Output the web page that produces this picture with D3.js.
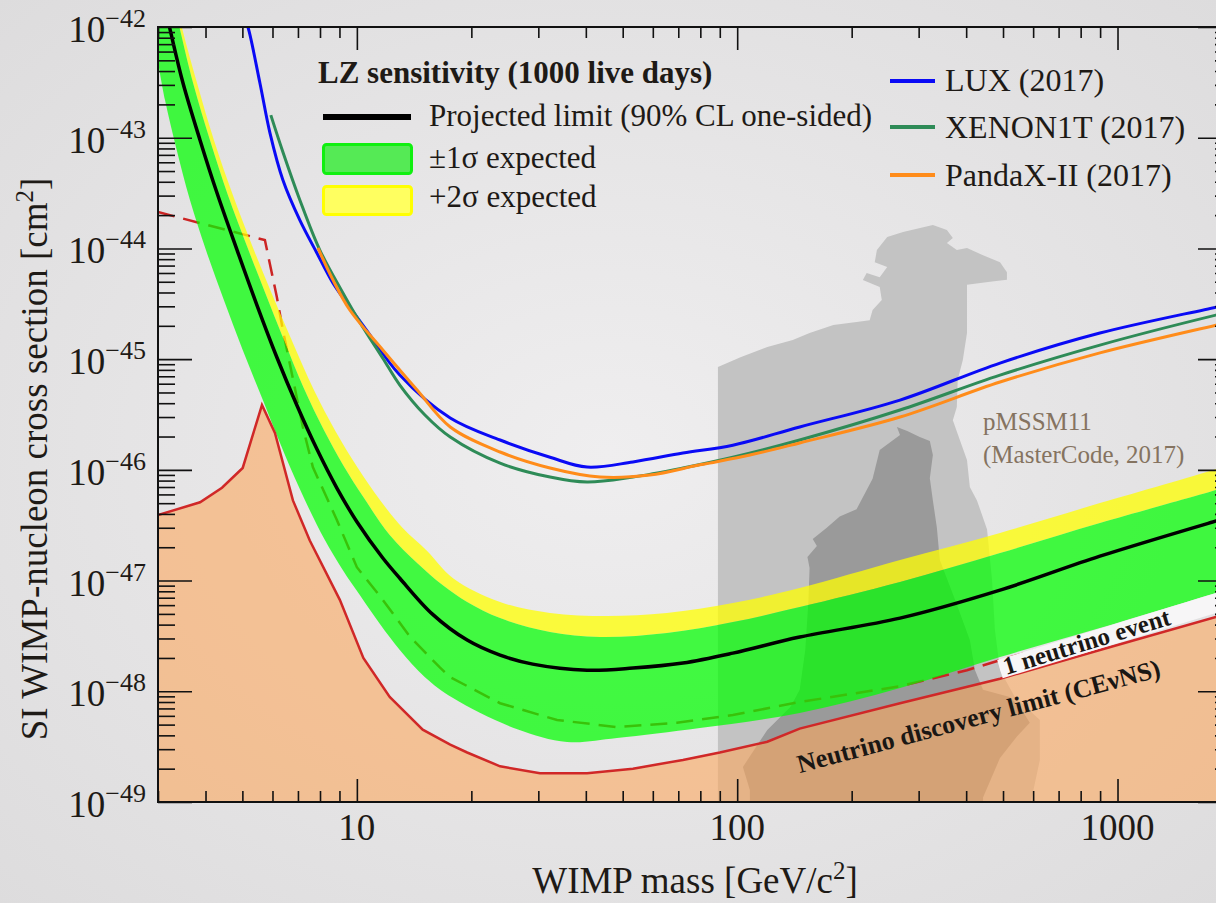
<!DOCTYPE html>
<html>
<head>
<meta charset="utf-8">
<script src="https://cdn.jsdelivr.net/npm/d3@7"></script>
<style>
  html, body { margin: 0; padding: 0; }
  body { width: 1216px; height: 903px; overflow: hidden; background: #ebeaeb; }
  svg { display: block; font-family: "Liberation Serif", "Times New Roman", serif; }
</style>
</head>
<body>
<svg id="chart" width="1216" height="903"></svg>
<script>
// === Data: [WIMP mass (GeV), cross section (cm^2)] ===
const projLimit = [
  [3.0, 2.8e-42], [3.22, 9.8e-43], [3.49, 3.12e-43], [3.87, 9.5e-44], [4.28, 3.23e-44],
  [4.84, 9.7e-45], [5.46, 3.08e-45], [6.16, 1.04e-45], [6.95, 3.85e-46], [7.85, 1.54e-46],
  [8.86, 6.85e-47], [10.0, 3.4e-47], [11.7, 1.6e-47], [12.97, 1.05e-47], [15.8, 4.98e-48],
  [19.5, 2.9e-48], [23.8, 2.12e-48], [29.0, 1.76e-48], [40.3, 1.55e-48], [53.2, 1.62e-48],
  [72, 1.8e-48], [97.4, 2.21e-48], [146, 3.09e-48], [268, 4.58e-48], [491, 8.2e-48],
  [899, 1.66e-47], [1815, 3.45e-47], [2000, 3.8e-47]
];
const sigma1High = [
  [3.0, 6.8e-42], [3.42, 9.8e-43], [3.71, 3.12e-43], [4.11, 9.5e-44], [4.58, 3.04e-44],
  [5.14, 1.05e-44], [5.73, 4.04e-45], [6.43, 1.49e-45], [7.25, 5.48e-46], [8.19, 2.29e-46],
  [9.24, 1.08e-46], [10.4, 5.68e-47], [12.2, 2.58e-47], [14.4, 1.44e-47], [16.8, 9.11e-48],
  [19.5, 6.4e-48], [23.8, 4.58e-48], [32.2, 3.43e-48], [43.6, 3.09e-48], [65.3, 3.36e-48],
  [97.4, 4.22e-48], [146, 5.76e-48], [268, 9.7e-48], [491, 1.77e-47], [899, 3.31e-47],
  [1815, 6.57e-47], [2000, 7.3e-47]
];
const sigma2High = [
  [3.0, 8e-42], [3.47, 9.8e-43], [3.80, 3.12e-43], [4.21, 9.5e-44], [4.72, 3.04e-44],
  [5.30, 1.07e-44], [5.98, 3.87e-45], [6.79, 1.40e-45], [7.71, 5.26e-46], [8.81, 2.20e-46],
  [10.06, 1.04e-46], [11.5, 5.34e-47], [13.2, 2.98e-47], [15.3, 1.85e-47], [17.9, 1.05e-47],
  [23.8, 6.4e-48], [32.2, 5.09e-48], [45.4, 4.78e-48], [65.3, 5.09e-48], [97.4, 6.26e-48],
  [146, 8.55e-48], [268, 1.53e-47], [491, 2.69e-47], [899, 5.01e-47], [1815, 1.02e-46],
  [2000, 1.15e-46]
];
const sigma1Low = [
  [3.0, 4.83e-43], [3.13, 2.19e-43], [3.36, 7.74e-44], [3.64, 2.74e-44], [4.01, 9.67e-45],
  [4.47, 3.42e-45], [5.01, 1.21e-45], [5.66, 4.27e-46], [6.47, 1.36e-46], [7.30, 5.34e-47],
  [8.24, 2.32e-47], [9.19, 1.24e-47], [10.18, 7.39e-48], [11.5, 4.05e-48], [12.97, 2.36e-48],
  [15.1, 1.34e-48], [17.9, 8.68e-49], [26.3, 4.56e-49], [35.7, 3.48e-49], [48.3, 3.78e-49],
  [79.8, 4.65e-49], [146, 6.36e-49], [268, 1.07e-48], [491, 2.04e-48], [899, 3.72e-48],
  [1815, 7.71e-48], [2000, 8.5e-48]
];
const luxLimit = [
  [5.1, 1.1e-42], [5.17, 1e-42], [5.56, 3.12e-43], [5.91, 1.10e-43], [6.39, 4.15e-44], [7.08, 1.80e-44],
  [7.85, 9.09e-45], [8.65, 4.87e-45], [9.58, 2.95e-45], [10.6, 1.83e-45], [12.97, 7.18e-46],
  [17.6, 2.94e-46], [23.8, 1.86e-46], [32.2, 1.30e-46], [40.3, 1.06e-46], [53.2, 1.18e-46],
  [72, 1.42e-46], [97.4, 1.67e-46], [146, 2.44e-46], [268, 4.27e-46], [491, 9.22e-46],
  [899, 1.72e-45], [1815, 2.95e-45], [2000, 3.2e-45]
];
const xenonLimit = [
  [5.94, 1.60e-43], [6.39, 7.43e-44], [7.08, 2.74e-44], [7.99, 9.67e-45], [9.19, 3.96e-45],
  [10.18, 2.16e-45], [11.7, 1.02e-45], [12.97, 5.83e-46], [15.1, 3.13e-46], [17.6, 1.98e-46],
  [23.8, 1.15e-46], [32.2, 8.61e-47], [40.3, 7.76e-47], [53.2, 8.61e-47], [72, 1.04e-46],
  [97.4, 1.30e-46], [146, 1.86e-46], [268, 3.47e-46], [491, 7.18e-46], [899, 1.34e-45],
  [1815, 2.50e-45], [2000, 2.7e-45]
];
const pandaxLimit = [
  [7.90, 1.01e-44], [8.65, 5.2e-45], [9.58, 2.78e-45], [11.7, 1.21e-45], [14.4, 5.26e-46],
  [17.6, 2.44e-46], [23.8, 1.45e-46], [32.2, 1.04e-46], [43.6, 8.61e-47], [58.9, 8.97e-47],
  [79.8, 1.11e-46], [108, 1.36e-46], [146, 1.75e-46], [268, 3.00e-46], [491, 6.21e-46],
  [899, 1.14e-45], [1815, 2.03e-45], [2000, 2.2e-45]
];
const nuFloor = [
  [3.0, 3.9e-47], [3.87, 5.1e-47], [4.42, 6.9e-47], [5.01, 1.04e-46], [5.63, 3.85e-46],
  [6.09, 2.15e-46], [6.79, 5.3e-47], [7.52, 2.3e-47], [9.02, 6.7e-48], [10.4, 2.0e-48],
  [12.2, 8.9e-49], [14.9, 4.5e-49], [17.6, 3.3e-49], [19.5, 2.8e-49], [23.8, 2.1e-49],
  [30.3, 1.82e-49], [40.3, 1.82e-49], [53.2, 2.0e-49], [72, 2.4e-49], [90, 2.8e-49],
  [120, 3.5e-49], [146, 4.6e-49], [268, 7.8e-49], [491, 1.3e-48], [899, 2.36e-48],
  [1815, 4.7e-48], [2000, 5.2e-48]
];
const nuOneEvent = [
  [3.0, 2.13e-44], [5.73, 1.19e-44], [6.16, 3.64e-45], [6.39, 1.83e-45], [7.21, 2.44e-46],
  [7.66, 1.06e-46], [8.86, 3.52e-47], [10.0, 1.32e-47], [11.7, 6.7e-48], [13.8, 3.1e-48],
  [16.5, 1.65e-48], [17.6, 1.34e-48], [23.8, 7.8e-49], [33.6, 5.5e-49], [48.3, 4.75e-49],
  [69.4, 5.2e-49], [97.4, 6.1e-49], [146, 8.0e-49], [268, 1.11e-48], [402, 1.55e-48],
  [491, 1.91e-48], [899, 3.43e-48], [1399, 5.4e-48], [1815, 6.7e-48], [2000, 7.3e-48]
];
// pMSSM11 (MasterCode) allowed regions
const pmssmOuter = [
  [89, 9e-50], [89, 8.5e-46], [102, 1.04e-45], [120, 1.29e-45], [140, 1.49e-45], [155, 1.72e-45],
  [179, 2.03e-45], [206, 2.16e-45], [223, 2.25e-45], [227, 2.78e-45], [240, 3.42e-45],
  [237, 4.48e-45], [214, 5.18e-45], [219, 6.0e-45], [237, 5.5e-45], [248, 6.8e-45],
  [230, 7.5e-45], [233, 9.7e-45], [248, 1.27e-44], [273, 1.41e-44], [327, 1.63e-44],
  [356, 1.47e-44], [369, 1.24e-44], [356, 1.12e-44], [378, 9.7e-45], [402, 1.01e-44],
  [443, 8.7e-45], [491, 7.5e-45], [512, 6.1e-45], [512, 5.2e-45], [462, 5.0e-45],
  [402, 4.7e-45], [402, 1.72e-45], [392, 9.8e-46], [380, 6.5e-46], [378, 3.7e-46],
  [369, 2.8e-46], [385, 1.86e-46], [402, 1.23e-46], [409, 7.0e-47], [427, 5.3e-47],
  [454, 2.9e-47], [468, 1.0e-47], [476, 3.6e-48], [491, 1.55e-48], [537, 8.9e-49],
  [625, 5.5e-49], [625, 2.4e-49], [588, 9e-50]
];
const pmssmCore = [
  [263, 2.44e-46], [280, 2.24e-46], [302, 1.98e-46], [321, 1.82e-46], [327, 1.36e-46],
  [321, 8.4e-47], [327, 5.3e-47], [335, 3.0e-47], [341, 1.53e-47], [374, 6.7e-48],
  [409, 2.9e-48], [422, 1.55e-48], [443, 1.03e-48], [521, 8.9e-49], [554, 7.2e-49],
  [588, 5.2e-49], [544, 3.9e-49], [491, 2.5e-49], [443, 1.1e-49], [443, 9e-50],
  [108, 9e-50], [108, 1.28e-49], [103.5, 2.07e-49], [115, 3.6e-49], [120, 4.46e-49],
  [138, 7.2e-49], [146, 1.03e-48], [151, 2.36e-48], [154, 6.7e-48], [155, 1.3e-47],
  [153, 1.63e-47], [162, 2.05e-47], [158, 2.37e-47], [172, 3.0e-47], [186, 3.8e-47],
  [206, 4.4e-47], [227, 8.3e-47], [237, 1.51e-46], [268, 2.06e-46]
];

// tick values
const yTickExps = [-42, -43, -44, -45, -46, -47, -48, -49];
const xTickLabels = [10, 100, 1000];

// === Scales ===
const W = 1216, H = 903;
const plot = { left: 158, right: 1232, top: 27, bottom: 802 };
const x = d3.scaleLog().domain([3, 2000]).range([plot.left, plot.right]);
const y = d3.scaleLog().domain([1e-49, 1e-42]).range([plot.bottom, plot.top]);

const svg = d3.select("#chart");
const defs = svg.append("defs");

const bgGrad = defs.append("radialGradient").attr("id", "bgGrad")
  .attr("cx", "50%").attr("cy", "50%").attr("r", "75%");
bgGrad.append("stop").attr("offset", "0%").attr("stop-color", "#efeeef");
bgGrad.append("stop").attr("offset", "100%").attr("stop-color", "#dcdbdc");
svg.append("rect").attr("width", W).attr("height", H).attr("fill", "url(#bgGrad)");

defs.append("clipPath").attr("id", "plotClip").append("rect")
  .attr("x", plot.left).attr("y", plot.top)
  .attr("width", plot.right - plot.left).attr("height", plot.bottom - plot.top);

const g = svg.append("g").attr("clip-path", "url(#plotClip)");

const smooth = d3.line().x(d => x(d[0])).y(d => y(d[1])).curve(d3.curveCatmullRom.alpha(0.5));
const straight = d3.line().x(d => x(d[0])).y(d => y(d[1]));
const closed = d3.line().x(d => x(d[0])).y(d => y(d[1])).curve(d3.curveLinearClosed);

function bandPath(upper, lower) {
  return smooth(upper) + "L" + smooth(lower.slice().reverse()).slice(1) + "Z";
}

// pMSSM11 regions
g.append("path").attr("d", closed(pmssmOuter)).attr("fill", "#c3c3c3");
g.append("path").attr("d", closed(pmssmCore)).attr("fill", "#9a9a9a");

// neutrino discovery region (filled)
const floorArea = d3.area().x(d => x(d[0])).y0(plot.bottom + 5).y1(d => y(d[1]));
g.append("path").datum(nuFloor).attr("d", floorArea)
  .attr("fill", "#fca95f").attr("fill-opacity", 0.6);

// label strip for "1 neutrino event"
const oneEvtAnchor = [509, 1.40e-48];
const oneEvt = svg.append("g")
  .attr("transform", `translate(${x(oneEvtAnchor[0])},${y(oneEvtAnchor[1])}) rotate(-17)`);
const oneEvtBg = oneEvt.append("rect").attr("fill", "#f7f6f7");

// 1 neutrino event line (dashed)
g.append("path").datum(nuOneEvent).attr("d", straight)
  .attr("fill", "none").attr("stroke", "#cc2424").attr("stroke-width", 2.5)
  .attr("stroke-dasharray", "17,9");

// bands
g.append("path").attr("d", bandPath(sigma2High, sigma1High))
  .attr("fill", "#ffff00").attr("fill-opacity", 0.75);
g.append("path").attr("d", bandPath(sigma1High, sigma1Low))
  .attr("fill", "#00ff00").attr("fill-opacity", 0.72);

// neutrino discovery limit line
g.append("path").datum(nuFloor).attr("d", straight)
  .attr("fill", "none").attr("stroke", "#d02828").attr("stroke-width", 2.5);

// projected limit
g.append("path").datum(projLimit).attr("d", smooth)
  .attr("fill", "none").attr("stroke", "#000").attr("stroke-width", 3.5);

// existing limits
g.append("path").datum(luxLimit).attr("d", smooth)
  .attr("fill", "none").attr("stroke", "#0a0af5").attr("stroke-width", 3);
g.append("path").datum(xenonLimit).attr("d", smooth)
  .attr("fill", "none").attr("stroke", "#2e8b57").attr("stroke-width", 3);
g.append("path").datum(pandaxLimit).attr("d", smooth)
  .attr("fill", "none").attr("stroke", "#ff8c1a").attr("stroke-width", 3);

// in-plot labels
const oneEvtText = oneEvt.append("text").attr("x", 0).attr("y", 0)
  .style("font-size", "25px").style("font-weight", "bold").attr("fill", "#1a1714")
  .text("1 neutrino event");
const bb = oneEvtText.node().getBBox();
oneEvtBg.attr("x", bb.x - 4).attr("y", -17).attr("width", bb.width + 60).attr("height", 19);

const discAnchor = [146, 1.82e-49];
svg.append("text")
  .attr("transform", `translate(${x(discAnchor[0])},${y(discAnchor[1])}) rotate(-15)`)
  .style("font-size", "26px").style("font-weight", "bold").attr("fill", "#1a1714")
  .text("Neutrino discovery limit (CEνNS)");

svg.append("text").attr("x", 983).attr("y", 430).style("font-size", "25px")
  .attr("fill", "#857360").text("pMSSM11");
svg.append("text").attr("x", 983).attr("y", 463).style("font-size", "25px")
  .attr("fill", "#857360").text("(MasterCode, 2017)");

// === Axes ===
const yMajor = yTickExps.map(e => Math.pow(10, e));
const yMinor = [];
for (let e = -49; e < -42; e++) for (let k = 2; k <= 9; k++) yMinor.push(k * Math.pow(10, e));
const xMajor = xTickLabels;
const xMinor = [3, 4, 5, 6, 7, 8, 9, 20, 30, 40, 50, 60, 70, 80, 90,
  200, 300, 400, 500, 600, 700, 800, 900, 2000];

function addAxis(axis, tf) {
  const a = svg.append("g").attr("transform", tf).call(axis);
  a.select(".domain").remove();
  a.selectAll("line").attr("stroke", "#111").attr("stroke-width", 1.6);
}
addAxis(d3.axisLeft(y).tickValues(yMajor).tickSizeInner(-34).tickSizeOuter(0).tickFormat(""), `translate(${plot.left},0)`);
addAxis(d3.axisLeft(y).tickValues(yMinor).tickSizeInner(-17).tickSizeOuter(0).tickFormat(""), `translate(${plot.left},0)`);
addAxis(d3.axisRight(y).tickValues(yMajor).tickSizeInner(-34).tickSizeOuter(0).tickFormat(""), `translate(${plot.right},0)`);
addAxis(d3.axisRight(y).tickValues(yMinor).tickSizeInner(-17).tickSizeOuter(0).tickFormat(""), `translate(${plot.right},0)`);
addAxis(d3.axisBottom(x).tickValues(xMajor).tickSizeInner(-23).tickSizeOuter(0).tickFormat(""), `translate(0,${plot.bottom})`);
addAxis(d3.axisBottom(x).tickValues(xMinor).tickSizeInner(-11).tickSizeOuter(0).tickFormat(""), `translate(0,${plot.bottom})`);
addAxis(d3.axisTop(x).tickValues(xMajor).tickSizeInner(-23).tickSizeOuter(0).tickFormat(""), `translate(0,${plot.top})`);
addAxis(d3.axisTop(x).tickValues(xMinor).tickSizeInner(-11).tickSizeOuter(0).tickFormat(""), `translate(0,${plot.top})`);

svg.append("rect").attr("x", plot.left).attr("y", plot.top)
  .attr("width", plot.right - plot.left).attr("height", plot.bottom - plot.top)
  .attr("fill", "none").attr("stroke", "#111").attr("stroke-width", 2);

const txt = "#1e1a16";
yTickExps.forEach(e => {
  const t = svg.append("text").attr("x", 146).attr("y", y(Math.pow(10, e)) + 15)
    .attr("text-anchor", "end").attr("fill", txt);
  t.append("tspan").style("font-size", "37px").text("10");
  t.append("tspan").style("font-size", "26px").attr("dy", -15).text("\u2212" + Math.abs(e));
});
xTickLabels.forEach(v => {
  svg.append("text").attr("x", x(v)).attr("y", 840).attr("text-anchor", "middle")
    .style("font-size", "37px").attr("fill", txt).text(v);
});

const xTitle = svg.append("text").attr("x", 695).attr("y", 893).attr("text-anchor", "middle")
  .style("font-size", "37px").attr("fill", txt);
xTitle.append("tspan").text("WIMP mass [GeV/c");
xTitle.append("tspan").attr("dy", -14).style("font-size", "25px").text("2");
xTitle.append("tspan").attr("dy", 14).text("]");

const yTitle = svg.append("text").attr("transform", "translate(47,459) rotate(-90)")
  .attr("text-anchor", "middle").style("font-size", "37px").attr("fill", txt);
yTitle.append("tspan").text("SI WIMP-nucleon cross section [cm");
yTitle.append("tspan").attr("dy", -14).style("font-size", "25px").text("2");
yTitle.append("tspan").attr("dy", 14).text("]");

// === Legend ===
svg.append("text").attr("x", 318).attr("y", 83).style("font-size", "31px")
  .style("font-weight", "bold").attr("fill", txt).text("LZ sensitivity (1000 live days)");
svg.append("line").attr("x1", 323).attr("x2", 411).attr("y1", 117).attr("y2", 117)
  .attr("stroke", "#000").attr("stroke-width", 6);
svg.append("text").attr("x", 429).attr("y", 126).style("font-size", "31px")
  .attr("fill", txt).text("Projected limit (90% CL one-sided)");
svg.append("rect").attr("x", 323.5).attr("y", 144.5).attr("width", 88).attr("height", 29).attr("rx", 3)
  .attr("fill", "#55ea55").attr("stroke", "#10f010").attr("stroke-width", 3);
svg.append("text").attr("x", 429).attr("y", 168).style("font-size", "31px")
  .attr("fill", txt).text("±1σ expected");
svg.append("rect").attr("x", 323.5).attr("y", 186.5).attr("width", 88).attr("height", 28).attr("rx", 3)
  .attr("fill", "#ffff60").attr("stroke", "#ffff00").attr("stroke-width", 3);
svg.append("text").attr("x", 429).attr("y", 207).style("font-size", "31px")
  .attr("fill", txt).text("+2σ expected");

const legendRight = [
  { name: "LUX (2017)", color: "#0a0af5", ly: 81, ty: 91 },
  { name: "XENON1T (2017)", color: "#2e8b57", ly: 127, ty: 138 },
  { name: "PandaX-II (2017)", color: "#ff8c1a", ly: 175, ty: 186 }
];
legendRight.forEach(d => {
  svg.append("line").attr("x1", 890).attr("x2", 935).attr("y1", d.ly).attr("y2", d.ly)
    .attr("stroke", d.color).attr("stroke-width", 4);
  svg.append("text").attr("x", 945).attr("y", d.ty).style("font-size", "32px")
    .attr("fill", txt).text(d.name);
});
</script>
</body>
</html>
